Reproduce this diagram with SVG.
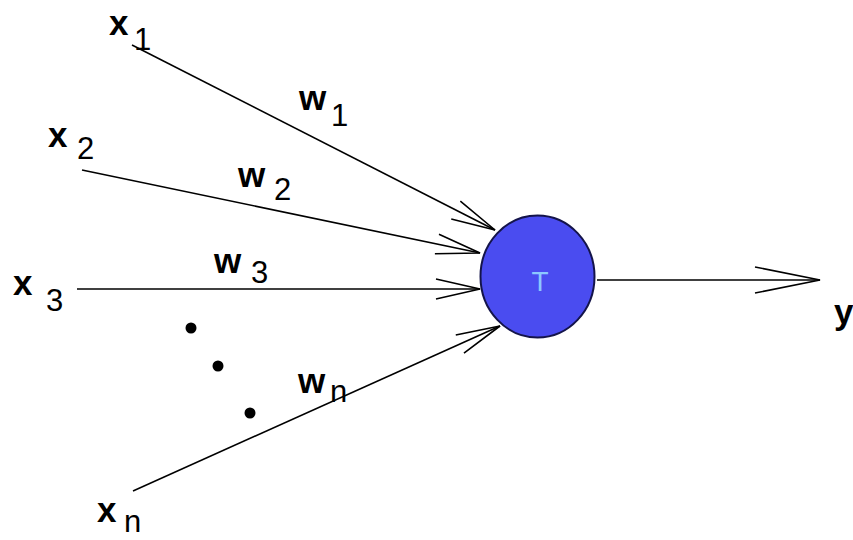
<svg xmlns="http://www.w3.org/2000/svg" width="853" height="540" viewBox="0 0 853 540">
<style>
.v{font-family:"Liberation Sans",Arial,sans-serif;font-weight:bold;font-size:35px;fill:#000}
.s{font-family:"Liberation Sans",Arial,sans-serif;font-weight:normal;font-size:31px;fill:#000}
.ln{stroke:#000;stroke-width:1.6;fill:none}
</style>
<defs>
<marker id="ah" markerUnits="userSpaceOnUse" markerWidth="60" markerHeight="30" refX="0" refY="0" viewBox="-50 -15 52 30" orient="auto" overflow="visible">
<path d="M-44,-10 L0,0 L-44,10" fill="none" stroke="#000" stroke-width="1.6"/>
</marker>
<marker id="ao" markerUnits="userSpaceOnUse" markerWidth="80" markerHeight="30" refX="0" refY="0" viewBox="-70 -15 72 30" orient="auto" overflow="visible">
<path d="M-65,-13 L0,0 L-65,13" fill="none" stroke="#000" stroke-width="1.6"/>
</marker>
</defs>
<rect width="853" height="540" fill="#fff"/>
<g id="connectors">
<line class="ln" x1="132" y1="45" x2="495" y2="230" marker-end="url(#ah)"/>
<line class="ln" x1="82" y1="170" x2="480" y2="253" marker-end="url(#ah)"/>
<line class="ln" x1="77" y1="289" x2="480" y2="289" marker-end="url(#ah)"/>
<line class="ln" x1="133" y1="491" x2="500" y2="326" marker-end="url(#ah)"/>
<line class="ln" x1="597" y1="280" x2="820" y2="280" marker-end="url(#ao)"/>
</g>
<g id="neuron">
<ellipse cx="537.5" cy="276.5" rx="57" ry="61" fill="#4a4cf0" stroke="#14144a" stroke-width="2"/>
<text x="540" y="291" text-anchor="middle" font-family="Liberation Sans,Arial,sans-serif" font-size="28" fill="#8cc8ff">T</text>
</g>
<g id="x1"><text class="v" x="109" y="35">x</text><text class="s" x="134" y="50">1</text></g>
<g id="x2"><text class="v" x="48" y="147">x</text><text class="s" x="77" y="159">2</text></g>
<g id="x3"><text class="v" x="13" y="295">x</text><text class="s" x="46" y="311">3</text></g>
<g id="xn"><text class="v" x="97" y="522">x</text><text class="s" x="124" y="532">n</text></g>
<g id="w1"><text class="v" x="299" y="110">w</text><text class="s" x="331" y="126">1</text></g>
<g id="w2"><text class="v" x="238" y="187">w</text><text class="s" x="274" y="200">2</text></g>
<g id="w3"><text class="v" x="214" y="273">w</text><text class="s" x="251" y="283">3</text></g>
<g id="wn"><text class="v" x="298" y="393">w</text><text class="s" x="330" y="402">n</text></g>
<g id="y"><text class="v" x="834" y="324">y</text></g>
<g id="dots">
<circle cx="191" cy="328" r="5.5" fill="#000"/>
<circle cx="218" cy="366" r="5.5" fill="#000"/>
<circle cx="250" cy="413" r="5.5" fill="#000"/>
</g>
</svg>
